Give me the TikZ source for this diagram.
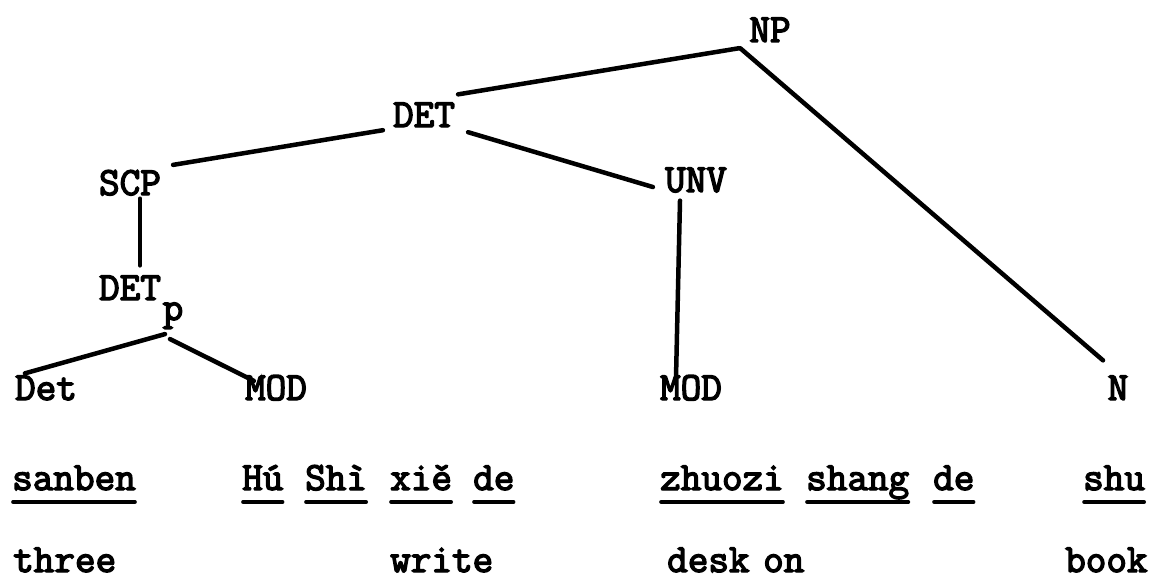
\documentclass[tikz,border=0pt]{standalone}
\usepackage{fontspec}
\newfontfamily\tw{Latin Modern Mono}[FakeBold=3.5,UprightFeatures={FakeBold=3.5}]
\usetikzlibrary{calc}
\begin{document}
\begin{tikzpicture}[x=1pt,y=-1pt,
  lab/.style={inner sep=0pt,anchor=base,font=\tw\fontsize{40}{48}\selectfont},
  wrd/.style={inner sep=0pt,anchor=base west,font=\tw\fontsize{40}{48}\selectfont},
  edge/.style={line width=4.5pt,line cap=round},
  uline/.style={line width=3.6pt,line cap=round}]
\useasboundingbox (0,0) rectangle (1151,578);
% tree labels
\node[lab] (np) at (770,42) {NP};
\node[lab] (det) at (424,127) {DET};
\node[lab] (scp) at (130,195) {SCP};
\node[lab] (unv) at (696,192) {UNV};
\node[lab] (detp) at (130,300) {DET};
\node[lab] (psub) at (173,320) {p};
\node[lab] (dt) at (46,400) {Det};
\node[lab] (modl) at (276,400) {MOD};
\node[lab] (modm) at (691,400) {MOD};
\node[lab] (n) at (1118,400) {N};
% connectors
\draw[edge] ($(np.south west)+(-10,6)$) -- ($(det.north east)+(3,-8)$);
\draw[edge] ($(np.south west)+(-9,6)$) -- ($(n.north)+(-15,-15)$);
\draw[edge] ($(det.south west)+(-10,3)$) -- ($(scp.north east)+(12,-5)$);
\draw[edge] ($(det.south east)+(13,5)$) -- ($(unv.west)+(-12,7)$);
\draw[edge] ($(scp.south)+(10,3)$) -- ($(detp.north)+(10,-10)$);
\draw[edge] ($(unv.south)+(-16,8)$) -- ($(modm.north)+(-15,3)$);
\draw[edge] ($(psub.south)+(-8,5)$) -- ($(dt.north west)+(10,-2)$);
\draw[edge] ($(psub.south)+(-3,10)$) -- ($(modl.north west)+(9,6)$);
% Chinese words (underlined)
\foreach \nm/\xx/\tx in {w1/12/sanben, w2/242/Hú, w3/305/Shì, w4/390/xiě, w5/473/de,
                         w6/660/zhuozi, w7/806/shang, w8/933/de, w9/1083/shu}{
  \node[wrd] (\nm) at (\xx,490) {\tx};
  \draw[uline] ($(\nm.base west)+(1,12)$) -- ($(\nm.base east)+(-1,12)$);
}
% glosses
\node[wrd] (g1) at (13,572) {three};
\node[wrd] (g2) at (390,572) {write};
\node[wrd] (g3) at (667,572) {desk};
\node[wrd] (g4) at (763,572) {on};
\node[wrd] (g5) at (1065,572) {book};
\end{tikzpicture}
\end{document}
